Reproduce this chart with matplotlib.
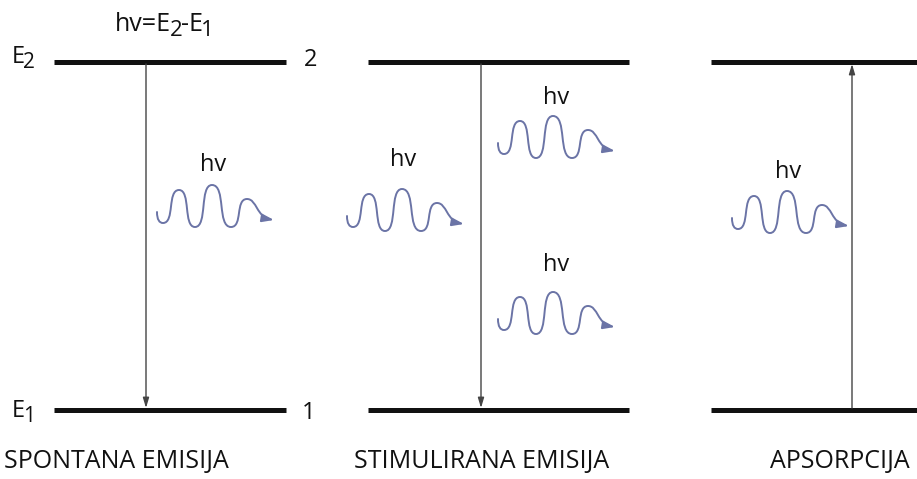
import matplotlib
matplotlib.use("Agg")
import matplotlib.pyplot as plt
from matplotlib.path import Path
from matplotlib.patches import FancyArrowPatch

plt.rcParams["font.family"] = ["Open Sans", "DejaVu Sans"]

W, H = 917, 479

# energetski nivoi: (x_start, x_end) po panelu, y gornjeg i donjeg nivoa
LEVEL_X0 = [54, 368, 711]
LEVEL_X1 = [286, 629, 917]
LEVEL_Y_TOP = 62
LEVEL_Y_BOT = 410

# prijelazi (x, od y, do y)
TRANS_X = [146, 481, 852]
TRANS_FROM = [LEVEL_Y_TOP, LEVEL_Y_TOP, LEVEL_Y_BOT]
TRANS_TO = [LEVEL_Y_BOT, LEVEL_Y_BOT, LEVEL_Y_TOP]

PANEL_NAMES = ["SPONTANA EMISIJA", "STIMULIRANA EMISIJA", "APSORPCIJA"]
PANEL_NAME_X = [116, 482, 840]

# fotoni: pocetak vala i polozaj natpisa "hv"
WAVE_X = [157, 347, 498, 498, 732]
WAVE_Y = [212, 216, 143, 319, 218]
HV_X = [213, 403, 556, 556, 788]
HV_Y = [165, 160, 98, 265, 172]

# oblik vala (ekstremi, relativno prema pocetku, pikseli, y prema dolje)
SHAPE_DX = [0, 6, 22, 38, 55, 74, 90]
SHAPE_DY = [0, 11, -22, 15, -27, 15, -13]
TIP_DX, TIP_DY = 117, 8

WAVE_COLOR = "#6b74a6"
HEAD_COLOR = "#4a5ca8"
TXT = "#111111"


def wave_path(x0, y0, k=0.75):
    pts = [(x0 + dx, y0 + dy) for dx, dy in zip(SHAPE_DX, SHAPE_DY)]
    verts = [pts[0]]
    codes = [Path.MOVETO]
    # prvi segment: vertikalna tangenta na pocetku
    (ax_, ay), (bx, by) = pts[0], pts[1]
    verts += [(ax_, ay + 0.7 * (by - ay)), (bx - 0.6 * (bx - ax_), by), (bx, by)]
    codes += [Path.CURVE4] * 3
    for (ax_, ay), (bx, by) in zip(pts[1:-1], pts[2:]):
        d = bx - ax_
        verts += [(ax_ + k * d, ay), (bx - k * d, by), (bx, by)]
        codes += [Path.CURVE4] * 3
    # rep vala prema strelici
    px, py = pts[-1]
    tx, ty = x0 + TIP_DX, y0 + TIP_DY
    verts += [(px + 10, py), (px + 9, ty - 3), (tx, ty)]
    codes += [Path.CURVE4] * 3
    return Path(verts, codes)


def pieces_text(ax, x, y, parts, renderer):
    # parts: (tekst, velicina, pomak prema dolje u pikselima)
    for s, fs, dy in parts:
        t = ax.text(x, y + dy, s, fontsize=fs, ha="left", va="baseline", color=TXT)
        x += t.get_window_extent(renderer=renderer).width - 1.5


fig = plt.figure(figsize=(W / 100, H / 100), dpi=100)
ax = fig.add_axes([0, 0, 1, 1])
ax.set_xlim(0, W)
ax.set_ylim(H, 0)
ax.axis("off")
renderer = fig.canvas.get_renderer()

for x0, x1 in zip(LEVEL_X0, LEVEL_X1):
    for y in (LEVEL_Y_TOP, LEVEL_Y_BOT):
        ax.plot([x0, x1], [y, y], color="#111111", lw=3.6, solid_capstyle="butt")

for x, ya, yb in zip(TRANS_X, TRANS_FROM, TRANS_TO):
    sign = 1 if yb > ya else -1
    ax.annotate("", xy=(x, yb - sign * 2), xytext=(x, ya + sign * 2),
                arrowprops=dict(arrowstyle="-|>,head_length=0.6,head_width=0.18",
                                color="#444444", lw=1.0, shrinkA=0, shrinkB=0))

for xw, yw in zip(WAVE_X, WAVE_Y):
    arr = FancyArrowPatch(path=wave_path(xw, yw),
                          arrowstyle="-|>,head_length=0.5,head_width=0.17",
                          mutation_scale=14, lw=1.4, color=WAVE_COLOR,
                          facecolor=HEAD_COLOR, zorder=3)
    ax.add_patch(arr)

for xh, yh in zip(HV_X, HV_Y):
    ax.text(xh, yh, "hv", fontsize=17, ha="center", va="center", color=TXT)

pieces_text(ax, 115, 31, [("hv=E", 18, 0), ("2", 16, 5), ("-E", 18, 0), ("1", 16, 5)],
            renderer)
pieces_text(ax, 12, 63, [("E", 17, 0), ("2", 15, 5)], renderer)
pieces_text(ax, 12, 417, [("E", 17, 0), ("1", 15, 5)], renderer)
ax.text(311, 60, "2", fontsize=17, ha="center", va="center", color=TXT)
ax.text(309, 413, "1", fontsize=17, ha="center", va="center", color=TXT)

for name, xn in zip(PANEL_NAMES, PANEL_NAME_X):
    ax.text(xn, 468, name, fontsize=18, ha="center", va="baseline", color=TXT)

fig.savefig("out.png", dpi=100)
